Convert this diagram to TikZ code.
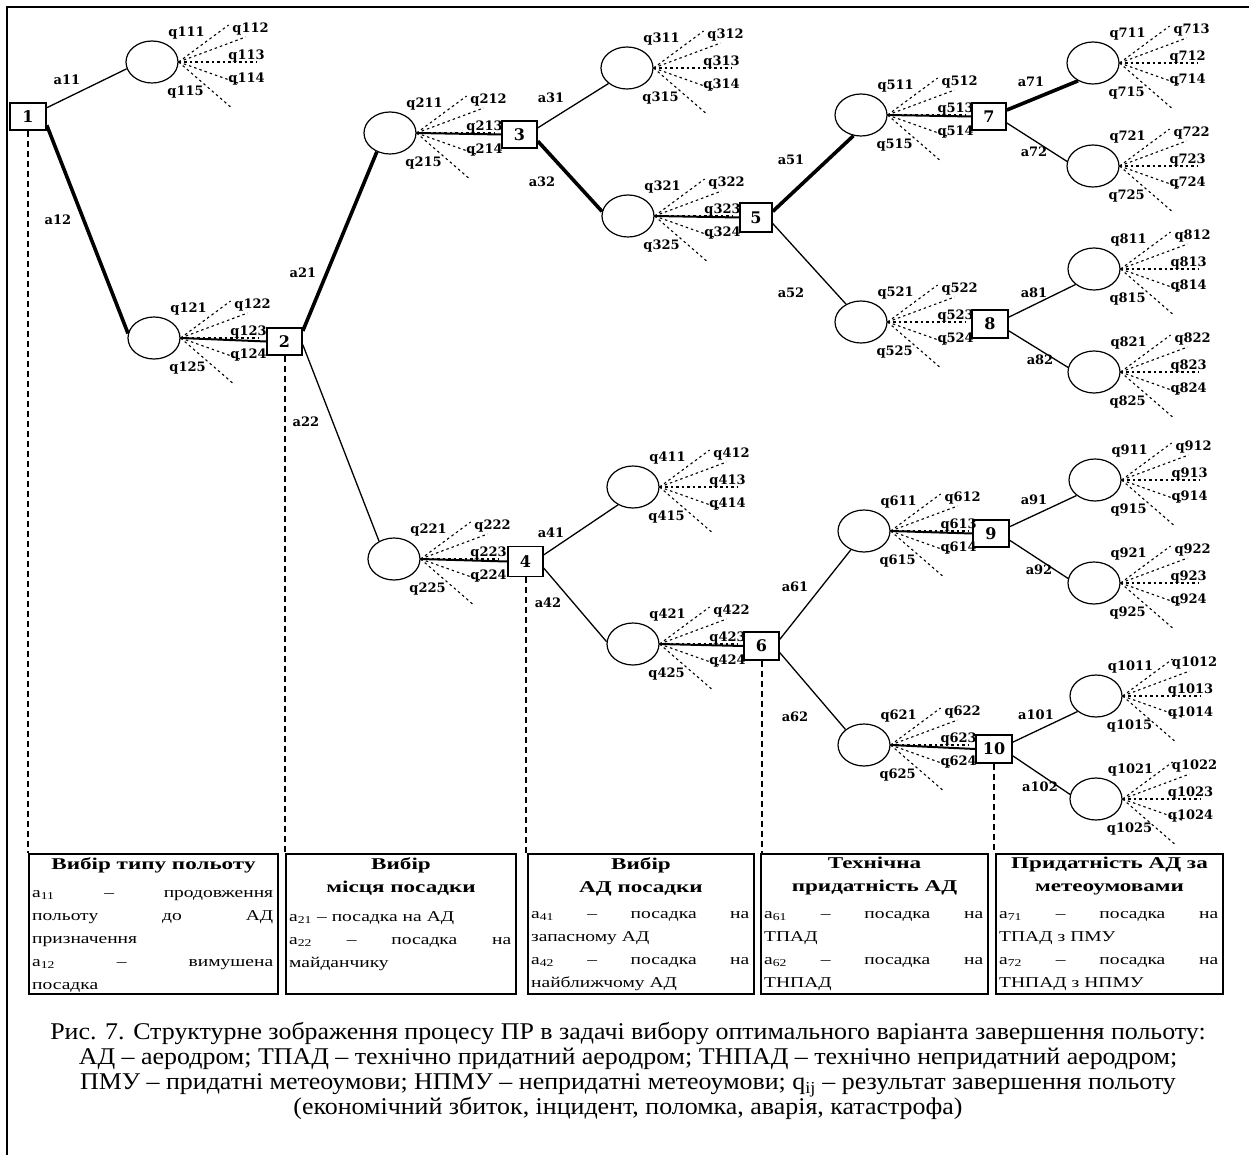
\documentclass[tikz,border=0pt]{standalone}
\usepackage{fontspec}
\setmainfont{Liberation Serif}
\newfontfamily\qfam{DejaVu Serif}
\newfontfamily\lgfam[FakeStretch=1.3,Ligatures=TeX]{Liberation Serif}
\newfontfamily\lgtfam[FakeStretch=1.4,Ligatures=TeX]{Liberation Serif}
\newfontfamily\capfam[FakeStretch=1.08,Ligatures=TeX]{Liberation Serif}
\usetikzlibrary{shapes.geometric}
\newcommand\qfont{\qfam\bfseries\fontsize{13}{13}\selectfont}
\newcommand\dnum{\qfam\bfseries\fontsize{16}{16}\selectfont}
\newcommand\lgbody{\lgfam\fontsize{15}{23}\selectfont}
\newcommand\lgtitle{\lgtfam\bfseries\fontsize{16.5}{23}\selectfont}
\newcommand\qfan[6]{%
  \foreach \k/\dx/\dy in {1/50/-37,2/67/-25,3/78/0,4/62/22,5/52/45}{%
    \coordinate (#1f\k) at ([shift={(\dx,\dy)}]#1.east);
    \draw[fanline] (#1.east) -- (#1f\k);
  }
  \node[ql] (#1q1) at ([shift={(8,-29)}]#1.east) {#2};
  \node[ql] (#1q2) at ([shift={(72,-33)}]#1.east) {#3};
  \node[ql] (#1q3) at ([shift={(68,-6)}]#1.east) {#4};
  \node[ql] (#1q4) at ([shift={(68,17)}]#1.east) {#5};
  \node[ql] (#1q5) at ([shift={(7,30)}]#1.east) {#6};
}
\begin{document}
\begin{tikzpicture}[x=1pt,y=-1pt,
  dbox/.style={draw, line width=1.6pt, minimum width=35pt, minimum height=28pt, inner sep=0pt, font=\dnum, fill=white},
  chance/.style={draw, ellipse, line width=1.2pt, minimum width=52pt, minimum height=42pt, inner sep=0pt},
  thinedge/.style={line width=1.3pt},
  thickedge/.style={line width=3.6pt},
  linkedge/.style={line width=2pt},
  fanline/.style={line width=1.1pt, dash pattern=on 2.5pt off 3pt},
  ql/.style={font=\qfont, inner sep=0pt},
  al/.style={font=\qfont, inner sep=0pt},
  levdash/.style={line width=2pt, dash pattern=on 6pt off 4pt},
  lgbox/.style={draw, line width=2pt, anchor=north west, minimum height=140pt, inner sep=0pt},
  lgt/.style={anchor=north, inner sep=0pt, align=center, font=\lgtitle},
  lgb/.style={anchor=north west, inner sep=0pt, align=left, font=\lgbody},
]
\useasboundingbox (0,0) rectangle (1249,1155);
% outer frame
\draw[line width=1.5pt] (7,1155) coordinate (fr1) -- (7,7) coordinate (fr2) -- (1249,7) coordinate (fr3);

% decision boxes
\node[dbox, minimum width=36pt, minimum height=27pt] (b1) at (28,116.5) {1};
\node[dbox, minimum height=27pt] (b2) at (284.5,341.5) {2};
\node[dbox, minimum height=27pt] (b3) at (519.5,134.5) {3};
\node[dbox, minimum height=30pt] (b4) at (525.5,561.5) {4};
\node[dbox, minimum width=32pt, minimum height=29pt] (b5) at (756,217.5) {5};
\node[dbox] (b6) at (761.5,646) {6};
\node[dbox, minimum width=34pt, minimum height=27pt] (b7) at (989,116.5) {7};
\node[dbox, minimum width=36pt] (b8) at (990,324) {8};
\node[dbox, minimum width=36pt, minimum height=27pt] (b9) at (991,533.5) {9};
\node[dbox, minimum width=36pt] (b10) at (994,749) {10};

% chance nodes
\node[chance] (e11) at (152,62) {};
\node[chance] (e12) at (154,338) {};
\node[chance] (e21) at (390,133) {};
\node[chance] (e22) at (394,559) {};
\node[chance] (e31) at (627,68) {};
\node[chance] (e32) at (628,216) {};
\node[chance] (e41) at (633,487) {};
\node[chance] (e42) at (633,644) {};
\node[chance] (e51) at (861,115) {};
\node[chance] (e52) at (861,322) {};
\node[chance] (e61) at (864,531) {};
\node[chance] (e62) at (864,745) {};
\node[chance] (e71) at (1093,63) {};
\node[chance] (e72) at (1093,166) {};
\node[chance] (e81) at (1094,269) {};
\node[chance] (e82) at (1094,372) {};
\node[chance] (e91) at (1095,480) {};
\node[chance] (e92) at (1094,583) {};
\node[chance] (e101) at (1096,696) {};
\node[chance] (e102) at (1096,799) {};

% edges
\draw[thinedge] (b1.25) -- (e11.195);
\draw[thickedge] (b1.-25) -- (e12.170);
\draw[linkedge] (e12.east) -- (b2.west);
\draw[thickedge] (b2.30) -- (e21.235);
\draw[thinedge] (b2.-10) -- (e22.130);
\draw[linkedge] (e21.east) -- (b3.west);
\draw[thinedge] (b3.20) -- (e31.220);
\draw[thickedge] (b3.-20) -- (e32.170);
\draw[linkedge] (e32.east) -- (b5.west);
\draw[thickedge] (b5.20) -- (e51.250);
\draw[thinedge] (b5.-20) -- (e52.130);
\draw[linkedge] (e51.east) -- (b7.west);
\draw[thickedge] (b7.20) -- (e71.230);
\draw[thinedge] (b7.-20) -- (e72.170);
\draw[thinedge] (b8.20) -- (e81.220);
\draw[thinedge] (b8.-20) -- (e82.170);
\draw[linkedge] (e22.east) -- (b4.west);
\draw[thinedge] (b4.20) -- (e41.230);
\draw[thinedge] (b4.-20) -- (e42.175);
\draw[linkedge] (e42.east) -- (b6.west);
\draw[thinedge] (b6.20) -- (e61.235);
\draw[thinedge] (b6.-20) -- (e62.140);
\draw[linkedge] (e61.east) -- (b9.west);
\draw[linkedge] (e62.east) -- (b10.west);
\draw[thinedge] (b9.20) -- (e91.220);
\draw[thinedge] (b9.-20) -- (e92.170);
\draw[thinedge] (b10.20) -- (e101.220);
\draw[thinedge] (b10.-20) -- (e102.170);

% edge labels
\node[al] (la11) at (67,80) {a11};
\node[al] (la12) at (58,220) {a12};
\node[al] (la21) at (303,273) {a21};
\node[al] (la22) at (306,422) {a22};
\node[al] (la31) at (551,98) {a31};
\node[al] (la32) at (542,182) {a32};
\node[al] (la41) at (551,533) {a41};
\node[al] (la42) at (548,603) {a42};
\node[al] (la51) at (791,160) {a51};
\node[al] (la52) at (791,293) {a52};
\node[al] (la61) at (795,587) {a61};
\node[al] (la62) at (795,717) {a62};
\node[al] (la71) at (1031,82) {a71};
\node[al] (la72) at (1034,152) {a72};
\node[al] (la81) at (1034,293) {a81};
\node[al] (la82) at (1040,360) {a82};
\node[al] (la91) at (1034,500) {a91};
\node[al] (la92) at (1039,570) {a92};
\node[al] (la101) at (1036,715) {a101};
\node[al] (la102) at (1040,787) {a102};

% outcome fans
\qfan{e11}{q111}{q112}{q113}{q114}{q115}
\qfan{e12}{q121}{q122}{q123}{q124}{q125}
\qfan{e21}{q211}{q212}{q213}{q214}{q215}
\qfan{e22}{q221}{q222}{q223}{q224}{q225}
\qfan{e31}{q311}{q312}{q313}{q314}{q315}
\qfan{e32}{q321}{q322}{q323}{q324}{q325}
\qfan{e41}{q411}{q412}{q413}{q414}{q415}
\qfan{e42}{q421}{q422}{q423}{q424}{q425}
\qfan{e51}{q511}{q512}{q513}{q514}{q515}
\qfan{e52}{q521}{q522}{q523}{q524}{q525}
\qfan{e61}{q611}{q612}{q613}{q614}{q615}
\qfan{e62}{q621}{q622}{q623}{q624}{q625}
\qfan{e71}{q711}{q713}{q712}{q714}{q715}
\qfan{e72}{q721}{q722}{q723}{q724}{q725}
\qfan{e81}{q811}{q812}{q813}{q814}{q815}
\qfan{e82}{q821}{q822}{q823}{q824}{q825}
\qfan{e91}{q911}{q912}{q913}{q914}{q915}
\qfan{e92}{q921}{q922}{q923}{q924}{q925}
\qfan{e101}{q1011}{q1012}{q1013}{q1014}{q1015}
\qfan{e102}{q1021}{q1022}{q1023}{q1024}{q1025}

% legend boxes
\node[lgbox, minimum width=249pt] (lgA) at (28,853) {};
\node[lgbox, minimum width=230pt] (lgB) at (285,853) {};
\node[lgbox, minimum width=226pt] (lgC) at (527,853) {};
\node[lgbox, minimum width=227pt] (lgD) at (760,853) {};
\node[lgbox, minimum width=227pt] (lgE) at (995,853) {};

% level dashed lines
\draw[levdash] (b1.south) -- (b1.south |- lgA.north);
\draw[levdash] (b2.south) -- (b2.south |- lgB.north);
\draw[levdash] (b4.south) -- (b4.south |- lgC.north);
\draw[levdash] (b6.south) -- (b6.south |- lgD.north);
\draw[levdash] (b10.south) -- (b10.south |- lgE.north);

% legend texts
\node[lgt] (tA) at ([yshift=-4pt]lgA.north) {Вибір типу польоту};
\node[lgb, text width=241pt] (xA) at (32,890) {a\textsubscript{11} \hfill – \hfill продовження\\польоту \hfill до \hfill АД\\призначення\\a\textsubscript{12} \hfill – \hfill вимушена\\посадка};
\node[lgt] (tB) at ([yshift=-4pt]lgB.north) {Вибір\\місця посадки};
\node[lgb, text width=222pt] (xB) at (289,911) {a\textsubscript{21} – посадка на АД\\a\textsubscript{22} \hfill – \hfill посадка \hfill на\\майданчику};
\node[lgt] (tC) at ([yshift=-4pt]lgC.north) {Вибір\\АД посадки};
\node[lgb, text width=218pt] (xC) at (531,911) {a\textsubscript{41} \hfill – \hfill посадка \hfill на\\запасному АД\\a\textsubscript{42} \hfill – \hfill посадка \hfill на\\найближчому АД};
\node[lgt] (tD) at ([yshift=-4pt]lgD.north) {Технічна\\придатність АД};
\node[lgb, text width=219pt] (xD) at (764,911) {a\textsubscript{61} \hfill – \hfill посадка \hfill на\\ТПАД\\a\textsubscript{62} \hfill – \hfill посадка \hfill на\\ТНПАД};
\node[lgt] (tE) at ([yshift=-4pt]lgE.north) {Придатність АД за\\метеоумовами};
\node[lgb, text width=219pt] (xE) at (999,911) {a\textsubscript{71} \hfill – \hfill посадка \hfill на\\ТПАД з ПМУ\\a\textsubscript{72} \hfill – \hfill посадка \hfill на\\ТНПАД з НПМУ};

% caption
\node[align=center, inner sep=0pt, font=\capfam\fontsize{24}{25.3}\selectfont] (cap) at (628,1071)
 {Рис. 7. Структурне зображення процесу ПР в задачі вибору оптимального варіанта завершення польоту:\\
  АД – аеродром; ТПАД – технічно придатний аеродром; ТНПАД – технічно непридатний аеродром;\\
  ПМУ – придатні метеоумови; НПМУ – непридатні метеоумови; q\textsubscript{ij} – результат завершення польоту\\
  (економічний збиток, інцидент, поломка, аварія, катастрофа)};
\end{tikzpicture}
\end{document}
